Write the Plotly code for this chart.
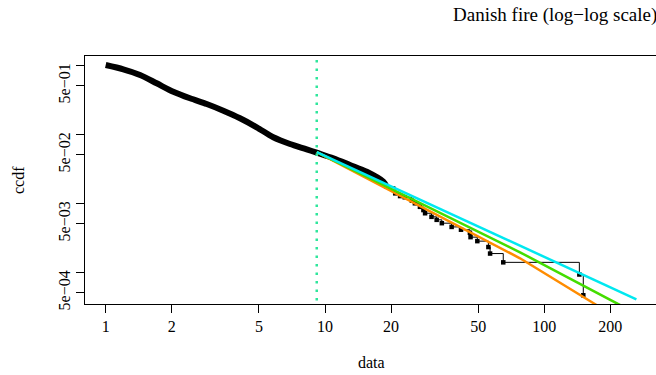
import plotly.graph_objects as go

body_x = [1.0, 1.203, 1.434, 1.708, 2.034, 2.424, 2.888, 3.439, 4.097, 4.882,
          5.812, 6.925, 8.252, 9.166, 10.91, 13.0, 15.5, 18.45, 19.1]
body_y = [1.0, 0.866, 0.716, 0.543, 0.410, 0.329, 0.272, 0.2176, 0.1688, 0.1251,
          0.0896, 0.0716, 0.0600, 0.0536, 0.0444, 0.0356, 0.0284, 0.0204, 0.0172]

# sparse tail of the empirical ccdf
tail_x = [19.1, 20.9, 22.0, 23.1, 24.9, 25.7, 27.1, 28.1, 28.6, 30.6, 32.3, 34.1,
          37.8, 41.7, 45.8, 46.1, 49.5, 55.6, 56.6, 65.0, 144.5, 150.6]
tail_y = [0.0172, 0.0138, 0.0126, 0.0121, 0.0108, 0.0099, 0.0088, 0.0079, 0.0071,
          0.0063, 0.0057, 0.0051, 0.0045, 0.0041, 0.0037, 0.0032, 0.0028, 0.0023,
          0.00185, 0.00138, 0.00092, 0.00046]

xmin = 9.17

fit_cyan_x = [9.17, 263.0]
fit_cyan_y = [0.0548, 0.000402]
fit_green_x = [9.17, 77.5, 221.0, 263.0]
fit_green_y = [0.0548, 0.00193, 0.000333, 0.000249]
fit_orange_x = [9.17, 77.5, 173.0, 263.0]
fit_orange_y = [0.0548, 0.00158, 0.000333, 0.000145]

x_ticks = [1, 2, 5, 10, 20, 50, 100, 200]
x_ticktext = ["1", "2", "5", "10", "20", "50", "100", "200"]
y_ticks = [1, 0.5, 0.1, 0.05, 0.01, 0.005, 0.001, 0.0005]
y_ticktext = ["", "5e\u221201", "", "5e\u221202", "", "5e\u221203", "", "5e\u221204"]

FONT = "Liberation Serif"

fig = go.Figure()
fig.add_trace(go.Scatter(x=body_x, y=body_y, mode="lines",
                         line=dict(color="black", width=6, shape="spline", smoothing=0.8),
                         hoverinfo="skip"))
fig.add_trace(go.Scatter(x=tail_x, y=tail_y, mode="lines+markers",
                         line=dict(color="black", width=1, shape="hv"),
                         marker=dict(symbol="square", size=4.5, color="black")))
fig.add_trace(go.Scatter(x=[xmin, xmin], y=[1e-6, 10], mode="lines",
                         line=dict(color="#2EE69C", width=2.5, dash="2.5px,6px")))
fig.add_trace(go.Scatter(x=fit_orange_x, y=fit_orange_y, mode="lines",
                         line=dict(color="#FF8C00", width=2.5)))
fig.add_trace(go.Scatter(x=fit_green_x, y=fit_green_y, mode="lines",
                         line=dict(color="#44DD00", width=2.5)))
fig.add_trace(go.Scatter(x=fit_cyan_x, y=fit_cyan_y, mode="lines",
                         line=dict(color="#00E8F0", width=2.5)))

fig.update_layout(
    width=656, height=375,
    margin=dict(l=85, r=0, t=56, b=71),
    paper_bgcolor="white", plot_bgcolor="white",
    showlegend=False,
    font=dict(family=FONT, size=16, color="black"),
    xaxis=dict(type="log", range=[-0.0944, 2.5094], showgrid=False, zeroline=False,
               showline=True, linecolor="black", linewidth=1, mirror=True,
               ticks="outside", ticklen=8, tickcolor="black",
               tickvals=x_ticks, ticktext=x_ticktext, tickfont=dict(size=16)),
    yaxis=dict(type="log", range=[-3.4638, 0.1304], showgrid=False, zeroline=False,
               showline=True, linecolor="black", linewidth=1, mirror=False,
               ticks="outside", ticklen=8, tickcolor="black",
               tickvals=y_ticks, ticktext=y_ticktext, tickangle=-90,
               tickfont=dict(size=16)),
    annotations=[
        dict(text="Danish fire (log\u2212log scale)", xref="paper", yref="paper",
             x=1, y=1, xanchor="right", yanchor="middle", xshift=3, yshift=41,
             showarrow=False, font=dict(size=19, family=FONT)),
        dict(text="data", xref="paper", yref="paper", x=0.502, y=0,
             xanchor="center", yanchor="middle", yshift=-58,
             showarrow=False, font=dict(size=16, family=FONT)),
        dict(text="ccdf", xref="paper", yref="paper", x=0, y=0.5, textangle=-90,
             xanchor="center", yanchor="middle", xshift=-67,
             showarrow=False, font=dict(size=16, family=FONT)),
    ],
)

fig.write_html("out.html", config={"displayModeBar": False},
               post_script="document.body.style.margin='0';document.body.style.overflow='hidden';")
